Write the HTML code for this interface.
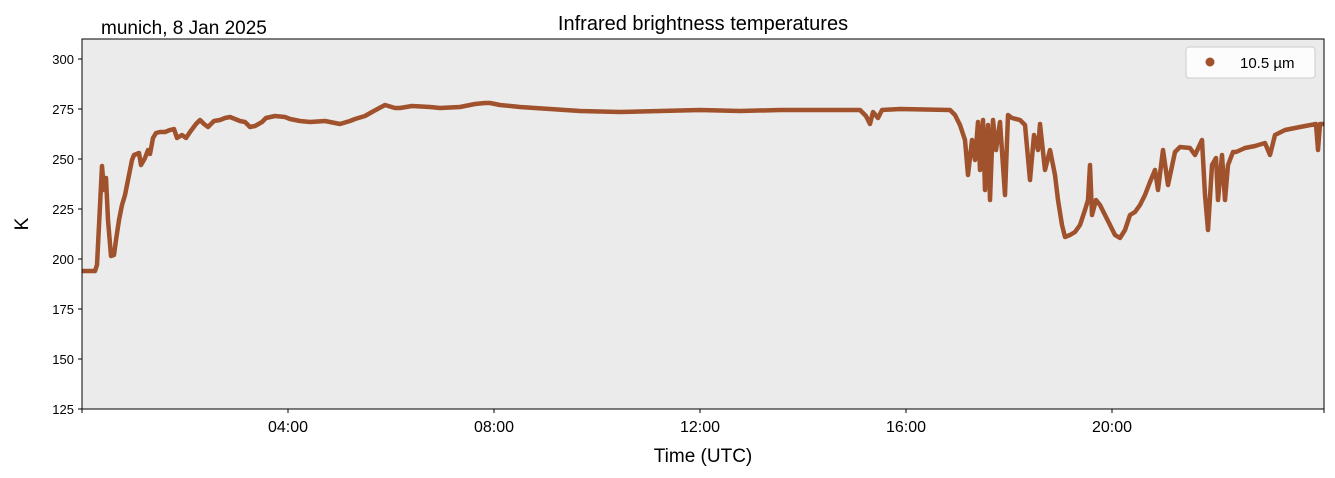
<!DOCTYPE html>
<html><head><meta charset="utf-8"><style>
body{margin:0;background:#fff;}
svg{display:block;font-family:"Liberation Sans","DejaVu Sans",sans-serif;}
</style></head><body>
<svg width="1335" height="478" viewBox="0 0 1335 478" xmlns="http://www.w3.org/2000/svg">
<rect x="82" y="39" width="1242" height="370" fill="#ebebeb"/>
<polyline fill="none" stroke="#a0522d" stroke-width="4.5" stroke-linejoin="round" points="82,271 95,271 97,265 102,166 104,190 106,178 108,220 111,256 114,255 116,240 119,220 122,205 125,195 128,180 132,160 134,155 139,153 141,165 145,158 148,150 150,154 153,138 156,133 160,132 165,132 170,130 174,129 177,138 182,135 186,138 190,132 196,124 200,120 204,124 208,127 214,121 220,120 225,118 230,117 235,119 240,121 245,122 250,127 255,126 262,122 266,118 275,116 285,117 290,119 300,121 310,122 325,121 340,124 350,121 355,119 365,116 372,112 385,105 395,108 400,108 412,106 430,107 440,108 460,107 470,105 475,104 485,103 490,103 500,105 520,107 550,109 580,111 620,112 660,111 700,110 740,111 780,110 820,110 860,110 866,116 870,124 873,112 878,118 882,110 900,109 950,110 955,115 960,125 965,140 968,175 972,140 975,160 978,122 980,170 983,120 985,190 988,125 990,200 993,120 996,150 1000,122 1005,195 1008,115 1012,118 1020,120 1025,125 1030,180 1034,135 1038,150 1040,124 1045,170 1050,150 1055,175 1058,200 1062,225 1065,237 1070,235 1075,232 1080,225 1085,210 1088,200 1090,165 1092,215 1096,200 1100,205 1105,215 1110,225 1115,235 1120,238 1125,230 1130,215 1135,212 1140,205 1145,195 1150,182 1155,170 1158,190 1163,150 1168,185 1175,152 1180,147 1190,148 1195,155 1202,140 1205,195 1208,230 1212,165 1216,158 1218,200 1222,155 1225,200 1228,165 1233,152 1236,152 1245,148 1255,146 1265,143 1270,155 1275,135 1285,130 1300,127 1316,124 1318,150 1320,124 1324,124"/>
<rect x="82" y="39" width="1242" height="370" fill="none" stroke="#000" stroke-width="1"/>
<g font-size="13" fill="#000" text-anchor="end">
<text x="74" y="414">125</text><text x="74" y="364">150</text><text x="74" y="314">175</text><text x="74" y="264">200</text><text x="74" y="214">225</text><text x="74" y="164">250</text><text x="74" y="114">275</text><text x="74" y="64">300</text>
</g>
<g stroke="#000"><line x1="78" x2="82" y1="409" y2="409"/><line x1="78" x2="82" y1="359" y2="359"/><line x1="78" x2="82" y1="309" y2="309"/><line x1="78" x2="82" y1="259" y2="259"/><line x1="78" x2="82" y1="209" y2="209"/><line x1="78" x2="82" y1="159" y2="159"/><line x1="78" x2="82" y1="109" y2="109"/><line x1="78" x2="82" y1="59" y2="59"/>
<line x1="288" x2="288" y1="409" y2="413"/><line x1="494" x2="494" y1="409" y2="413"/><line x1="700" x2="700" y1="409" y2="413"/><line x1="906" x2="906" y1="409" y2="413"/><line x1="1112" x2="1112" y1="409" y2="413"/><line x1="82" x2="82" y1="409" y2="413"/><line x1="1324" x2="1324" y1="409" y2="413"/></g>
<g font-size="16" text-anchor="middle"><text x="288" y="432">04:00</text><text x="494" y="432">08:00</text><text x="700" y="432">12:00</text><text x="906" y="432">16:00</text><text x="1112" y="432">20:00</text></g>
<text x="703" y="462" font-size="19" text-anchor="middle">Time (UTC)</text>
<text x="28" y="224" font-size="19" text-anchor="middle" transform="rotate(-90 28 224)">K</text>
<text x="703" y="30" font-size="20" text-anchor="middle">Infrared brightness temperatures</text>
<text x="101" y="34" font-size="19">munich, 8 Jan 2025</text>
<rect x="1186" y="47" width="129" height="31" rx="3" fill="#fff" fill-opacity="0.85" stroke="#ccc"/>
<circle cx="1210" cy="62" r="4.5" fill="#a0522d"/>
<text x="1240" y="68" font-size="15">10.5 µm</text>
</svg>
</body></html>
